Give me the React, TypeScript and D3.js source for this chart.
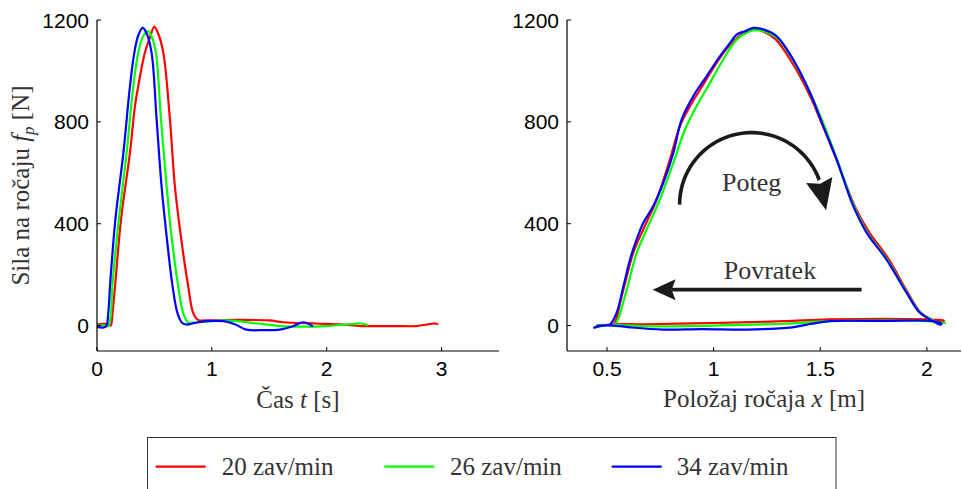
import React from 'react';
import * as d3 from 'd3';

type Pt = [number, number];

const seriesNames = ['20 zav/min', '26 zav/min', '34 zav/min'];
const seriesColors = ['#ff0000', '#00ff00', '#0000ff'];

const timeTicks = [0, 1, 2, 3];
const forceTicks = [0, 400, 800, 1200];
const posTicks = [0.5, 1, 1.5, 2];

// Force vs time  [t (s), F (N)]
const time20: Pt[] = [
  [0, 5], [0.1, 5], [0.12, 0], [0.135, 50], [0.157, 154], [0.209, 416], [0.287, 679], [0.33, 860], [0.359, 940],
  [0.417, 1072], [0.46, 1130], [0.498, 1173], [0.53, 1150], [0.577, 1072], [0.635, 810], [0.678, 548],
  [0.73, 351], [0.794, 154], [0.837, 50], [0.88, 22], [0.95, 20], [1.2, 22], [1.5, 20], [1.62, 13],
  [1.91, 8], [2.14, 4], [2.3, -2], [2.6, -2], [2.78, -2], [2.9, 6], [2.95, 8], [2.97, 4]
];
const time26: Pt[] = [
  [0, 0], [0.09, 0], [0.1, -3], [0.12, 40], [0.133, 154], [0.19, 416], [0.258, 679], [0.316, 940],
  [0.359, 1072], [0.4, 1135], [0.446, 1156], [0.48, 1130], [0.513, 1072], [0.557, 810], [0.606, 548],
  [0.649, 351], [0.707, 154], [0.75, 50], [0.794, 12], [0.85, 12], [0.95, 15], [1.1, 20], [1.2, 18],
  [1.4, 8], [1.6, -2], [1.9, -4], [2.0, -2], [2.2, 5], [2.3, 8], [2.36, 2]
];
const time34: Pt[] = [
  [0, -5], [0.05, -8], [0.08, -3], [0.1, 60], [0.113, 154], [0.16, 416], [0.23, 679], [0.287, 940],
  [0.325, 1072], [0.36, 1140], [0.397, 1169], [0.43, 1150], [0.475, 1072], [0.519, 810], [0.562, 548],
  [0.606, 351], [0.658, 154], [0.7, 50], [0.742, 10], [0.78, 4], [0.85, 10], [0.95, 17], [1.1, 17],
  [1.2, 5], [1.3, -16], [1.45, -18], [1.59, -16], [1.7, -4], [1.8, 13], [1.88, -4]
];

// Force vs handle position loop [x (m), F (N)]
const loop20: Pt[] = [
  [0.45, 0], [0.5, 3], [0.53, 4], [0.569, 115], [0.623, 285], [0.67, 377], [0.733, 495], [0.795, 652],
  [0.842, 783], [0.889, 861], [0.951, 946], [1.014, 1032], [1.077, 1103], [1.155, 1156], [1.19, 1165],
  [1.233, 1155], [1.29, 1125], [1.37, 1030], [1.45, 905], [1.514, 780], [1.577, 650], [1.66, 472],
  [1.725, 372], [1.82, 262], [1.91, 130], [1.97, 52], [2.02, 25], [2.07, 15], [2.08, 20],
  [2.0, 24], [1.545, 24], [1.33, 17], [1.0, 10], [0.686, 5], [0.53, 5], [0.46, 0]
];
const loop26: Pt[] = [
  [0.45, 0], [0.5, 2], [0.537, 4], [0.584, 115], [0.639, 285], [0.686, 377], [0.748, 495], [0.811, 639],
  [0.866, 770], [0.92, 861], [0.983, 953], [1.045, 1045], [1.108, 1123], [1.17, 1156], [1.2, 1160],
  [1.24, 1155], [1.3, 1128], [1.375, 1040], [1.455, 910], [1.52, 782], [1.58, 650], [1.658, 470],
  [1.72, 366], [1.815, 258], [1.907, 128], [1.97, 50], [2.02, 24], [2.065, 12], [2.085, 10],
  [2.0, 17], [1.545, 17], [1.33, 7], [1.0, 0], [0.686, -3], [0.53, 3], [0.45, 0]
];
const loop34: Pt[] = [
  [0.436, -10], [0.467, -2], [0.5, 0], [0.514, 4], [0.545, 50], [0.577, 154], [0.608, 259], [0.639, 338],
  [0.67, 403], [0.717, 469], [0.764, 560], [0.811, 678], [0.85, 809], [0.905, 901], [0.967, 979],
  [1.03, 1058], [1.077, 1110], [1.108, 1143], [1.147, 1156], [1.186, 1169], [1.233, 1163], [1.296, 1136],
  [1.373, 1045], [1.452, 914], [1.514, 783], [1.577, 652], [1.655, 469], [1.718, 364], [1.811, 259],
  [1.905, 128], [1.967, 50], [2.014, 24], [2.061, 4], [2.069, 6],
  [2.03, 17], [1.8, 18], [1.545, 17], [1.46, 7], [1.37, -7], [1.155, -16], [0.95, -14], [0.764, -16],
  [0.608, -7], [0.53, 0], [0.467, 0], [0.44, -8]
];

const timeSeries = [time20, time26, time34];
const loopSeries = [loop20, loop26, loop34];

const forceDomain: Pt = [-100, 1200];
const timeDomain: Pt = [0, 3.5];
const posDomain: Pt = [0.3125, 2.16];

const TICK_FONT = '"Liberation Sans", Arial, sans-serif';
const SERIF = '"Liberation Serif", "Times New Roman", serif';
const LABEL_COLOR = '#333';

export default function App() {
  const yF = d3.scaleLinear().domain(forceDomain).range([351, 20]);
  const xT = d3.scaleLinear().domain(timeDomain).range([97, 499]);
  const xP = d3.scaleLinear().domain(posDomain).range([567, 961]);

  const lineT = d3.line<Pt>().x(d => xT(d[0])).y(d => yF(d[1])).curve(d3.curveCatmullRom.alpha(0.5));
  const lineP = d3.line<Pt>().x(d => xP(d[0])).y(d => yF(d[1])).curve(d3.curveCatmullRom.alpha(0.5));

  const axes = (x: d3.ScaleLinear<number, number>, xt: number[]) => {
    const [x0, x1] = x.range();
    const [yb, yt] = yF.range();
    const fmt = (v: number) => String(v);
    return (
      <g>
        <line x1={x0} y1={yt} x2={x0} y2={yb} stroke="#000" strokeWidth={1.2} />
        <line x1={x0} y1={yb} x2={x1} y2={yb} stroke="#000" strokeWidth={1.2} />
        {forceTicks.map(v => (
          <g key={'y' + v}>
            <line x1={x0} x2={x0 + 4} y1={yF(v)} y2={yF(v)} stroke="#000" strokeWidth={1} />
            <text x={x0 - 8} y={yF(v)} dy="0.36em" textAnchor="end" fontFamily={TICK_FONT} fontSize={21} fill="#000">{fmt(v)}</text>
          </g>
        ))}
        {xt.map(v => (
          <g key={'x' + v}>
            <line x1={x(v)} x2={x(v)} y1={yb} y2={yb - 4} stroke="#000" strokeWidth={1} />
            <text x={x(v)} y={376} textAnchor="middle" fontFamily={TICK_FONT} fontSize={21} fill="#000">{fmt(v)}</text>
          </g>
        ))}
      </g>
    );
  };

  // curved arrow (Poteg)
  const cx = xP(1.178), cy = yF(475), r = 72;
  const a0 = Math.PI, a1 = (20 * Math.PI) / 180;
  const arcPath = d3.path();
  arcPath.moveTo(cx + r * Math.cos(a0), cy - r * Math.sin(a0));
  const steps = 40;
  for (let i = 1; i <= steps; i++) {
    const a = a0 + ((a1 - a0) * i) / steps;
    arcPath.lineTo(cx + r * Math.cos(a), cy - r * Math.sin(a));
  }
  const bx = cx + r * Math.cos(a1), by = cy - r * Math.sin(a1);
  const dir: Pt = [0.22, 0.975];
  const perp: Pt = [dir[1], -dir[0]];
  const hl = 31, hw = 13.5;
  const tip: Pt = [bx + dir[0] * hl, by + dir[1] * hl];
  const c1: Pt = [bx + perp[0] * hw, by + perp[1] * hw];
  const c2: Pt = [bx - perp[0] * hw, by - perp[1] * hw];
  const notch: Pt = [bx + dir[0] * 4, by + dir[1] * 4];
  const headCurve = `M${tip[0]},${tip[1]}L${c1[0]},${c1[1]}L${notch[0]},${notch[1]}L${c2[0]},${c2[1]}Z`;

  // straight arrow (Povratek)
  const ay = yF(141);
  const ax0 = xP(1.694), axTip = xP(0.714);
  const shl = 23, shw = 10.5;
  const headStraight = `M${axTip},${ay}L${axTip + shl},${ay - shw}L${axTip + shl - 4},${ay}L${axTip + shl},${ay + shw}Z`;

  const legendItems = [
    { line: 155.7, text: 221.7 },
    { line: 384.3, text: 450 },
    { line: 611.7, text: 676.7 }
  ];

  return (
    <svg width={962} height={489} style={{ position: 'absolute', left: 0, top: 0, background: '#fff' }}>
      <rect width={962} height={489} fill="#fff" />
      {/* Left plot */}
      {timeSeries.map((s, i) => (
        <path key={'t' + i} d={lineT(s) || ''} fill="none" stroke={seriesColors[i]} strokeWidth={2.2} strokeLinejoin="round" />
      ))}
      {axes(xT, timeTicks)}
      <text transform={`translate(29,${(yF.range()[0] + yF.range()[1]) / 2}) rotate(-90)`} textAnchor="middle"
        fontFamily={SERIF} fontSize={25} fill={LABEL_COLOR}>
        Sila na ročaju <tspan fontStyle="italic">f</tspan><tspan fontStyle="italic" fontSize={17} dy={5}>p</tspan><tspan dy={-5}> [N]</tspan>
      </text>
      <text x={(xT.range()[0] + xT.range()[1]) / 2} y={408} textAnchor="middle" fontFamily={SERIF} fontSize={25} fill={LABEL_COLOR}>
        Čas <tspan fontStyle="italic">t</tspan> [s]
      </text>

      {/* Right plot */}
      {loopSeries.map((s, i) => (
        <path key={'p' + i} d={lineP(s) || ''} fill="none" stroke={seriesColors[i]} strokeWidth={2.2} strokeLinejoin="round" />
      ))}
      {axes(xP, posTicks)}
      <text x={(xP.range()[0] + xP.range()[1]) / 2} y={407} textAnchor="middle" fontFamily={SERIF} fontSize={25} fill={LABEL_COLOR}>
        Položaj ročaja <tspan fontStyle="italic">x</tspan> [m]
      </text>

      {/* annotations */}
      <path d={arcPath.toString()} fill="none" stroke="#1a1a1a" strokeWidth={3.6} />
      <path d={headCurve} fill="#1a1a1a" />
      <text x={cx} y={yF(530)} textAnchor="middle" fontFamily={SERIF} fontSize={26} fill={LABEL_COLOR}>Poteg</text>
      <line x1={ax0} y1={ay} x2={axTip + shl - 4} y2={ay} stroke="#1a1a1a" strokeWidth={3.8} />
      <path d={headStraight} fill="#1a1a1a" />
      <text x={xP(1.264)} y={yF(181)} textAnchor="middle" fontFamily={SERIF} fontSize={26} fill={LABEL_COLOR}>Povratek</text>

      {/* legend */}
      <rect x={147.5} y={437.5} width={688.5} height={70} fill="#fff" stroke="#333" strokeWidth={1} />
      {legendItems.map((it, i) => (
        <g key={'l' + i}>
          <line x1={it.line} x2={it.line + 50} y1={466.7} y2={466.7} stroke={seriesColors[i]} strokeWidth={2.2} />
          <text x={it.text} y={475} fontFamily={SERIF} fontSize={25} fill={LABEL_COLOR}>{seriesNames[i]}</text>
        </g>
      ))}
    </svg>
  );
}
